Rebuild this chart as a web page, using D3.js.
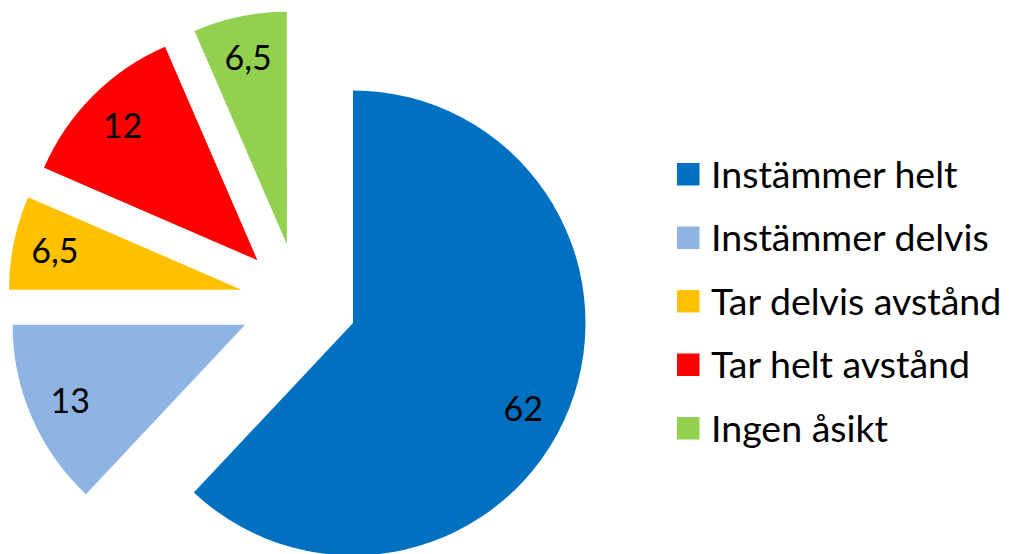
<!DOCTYPE html>
<html>
<head>
<meta charset="utf-8">
<script src="https://cdn.jsdelivr.net/npm/d3@7"></script>
<style>
  body { margin: 0; background: #fff; }
  svg { display: block; font-family: Lato, "Open Sans", sans-serif; }
</style>
</head>
<body>
<svg id="chart" width="1024" height="554"></svg>
<script>
var categories = ["Instämmer helt", "Instämmer delvis", "Tar delvis avstånd", "Tar helt avstånd", "Ingen åsikt"];
var values = [62, 13, 6.5, 12, 6.5];
var colors = ["#0070C0", "#8EB4E3", "#FFC000", "#FF0000", "#92D050"];

var svg = d3.select("#chart"),
    width = +svg.attr("width"),
    height = +svg.attr("height");

svg.append("rect").attr("width", width).attr("height", height).attr("fill", "#fff");

var cx = 298.7, cy = 301.5,
    radius = 232.5,
    explode = 58.4,
    labelDist = 0.82;

// the big slice label sits a bit further round, like excel put it
var labelTurn = [5.2, 0, 0, 0, 0];

var pie = d3.pie().sort(null).value(function(d) { return d; });
var arc = d3.arc().innerRadius(0).outerRadius(radius);

var slices = pie(values);

var g = svg.append("g").attr("transform", "translate(" + cx + "," + cy + ")");

var slice = g.selectAll(".slice")
    .data(slices)
  .enter().append("g")
    .attr("class", "slice")
    .attr("transform", function(d) {
      var mid = (d.startAngle + d.endAngle) / 2;
      return "translate(" + (explode * Math.sin(mid)) + "," + (-explode * Math.cos(mid)) + ")";
    });

slice.append("path")
    .attr("d", arc)
    .attr("fill", function(d, i) { return colors[i]; });

slice.append("text")
    .attr("x", function(d, i) {
      var a = (d.startAngle + d.endAngle) / 2 + labelTurn[i] * Math.PI / 180;
      return labelDist * radius * Math.sin(a);
    })
    .attr("y", function(d, i) {
      var a = (d.startAngle + d.endAngle) / 2 + labelTurn[i] * Math.PI / 180;
      return -labelDist * radius * Math.cos(a);
    })
    .attr("dy", "0.36em")
    .attr("text-anchor", "middle")
    .style("font-size", "34px")
    .style("fill", "#000")
    .text(function(d) { return String(d.data).replace(".", ","); });

// legend
var legend = svg.selectAll(".legend")
    .data(categories)
  .enter().append("g")
    .attr("class", "legend")
    .attr("transform", function(d, i) { return "translate(677," + (174.5 + i * 63.5) + ")"; });

legend.append("rect")
    .attr("x", 0)
    .attr("y", -11.5)
    .attr("width", 22.5)
    .attr("height", 22.5)
    .attr("fill", function(d, i) { return colors[i]; });

legend.append("text")
    .attr("x", 34)
    .attr("y", 13)
    .style("font-size", "37.5px")
    .style("fill", "#000")
    .text(function(d) { return d; });
</script>
</body>
</html>
